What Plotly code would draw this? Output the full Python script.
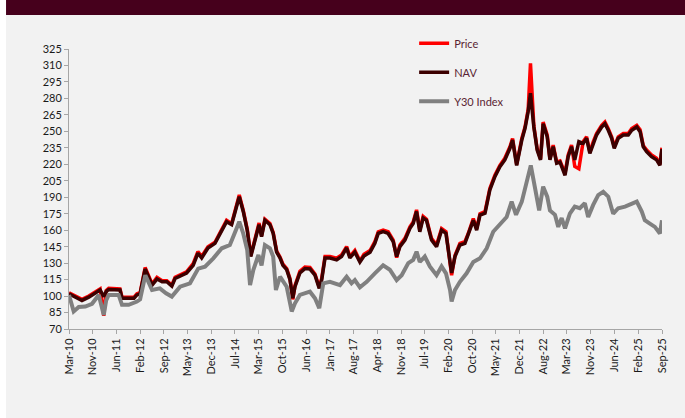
import plotly.graph_objects as go

nav_dates = [
"2010-03-01","2010-04-08","2010-05-16","2010-07-03","2010-09-06","2010-11-06","2010-12-23","2011-01-27","2011-02-19","2011-03-15",
"2011-05-14","2011-07-01","2011-07-20","2011-09-15","2011-11-12","2011-12-10","2012-01-09","2012-02-26","2012-03-24","2012-05-02",
"2012-06-18","2012-08-06","2012-09-20","2012-11-07","2012-12-08","2013-01-25","2013-03-28","2013-05-30","2013-07-14","2013-08-19",
"2013-10-18","2013-12-24","2014-02-27","2014-04-14","2014-06-01","2014-07-02","2014-08-13","2014-09-20","2014-10-28","2014-12-01",
"2015-01-10","2015-02-18","2015-03-14","2015-04-15","2015-06-02","2015-07-03","2015-08-05","2015-09-06","2015-10-04","2015-11-09",
"2015-12-10","2016-01-06","2016-01-27","2016-03-14","2016-05-01","2016-06-18","2016-08-05","2016-09-15","2016-10-08","2016-11-09",
"2016-12-26","2017-02-28","2017-04-16","2017-06-03","2017-07-04","2017-08-21","2017-10-08","2017-11-16","2018-01-13","2018-02-28",
"2018-04-01","2018-05-18","2018-07-05","2018-08-22","2018-09-24","2018-10-25","2018-12-12","2019-01-29","2019-03-01","2019-04-02",
"2019-05-03","2019-06-04","2019-07-06","2019-08-23","2019-10-10","2019-11-27","2020-01-08","2020-02-09","2020-03-02","2020-04-03",
"2020-05-20","2020-07-07","2020-08-08","2020-09-25","2020-10-27","2020-11-28","2021-01-15","2021-03-02","2021-04-19","2021-06-06",
"2021-07-23","2021-09-10","2021-10-05","2021-11-13","2022-01-01","2022-02-01","2022-03-03","2022-03-25","2022-04-26","2022-05-28",
"2022-06-29","2022-07-24","2022-09-01","2022-09-27","2022-10-28","2022-11-30","2023-01-01","2023-02-18","2023-03-20","2023-04-21",
"2023-05-22","2023-06-30","2023-08-10","2023-09-12","2023-10-13","2023-11-14","2023-12-16","2024-02-03","2024-03-05","2024-04-06",
"2024-05-08","2024-06-02","2024-07-10","2024-08-27","2024-10-14","2024-11-16","2025-01-03","2025-02-04","2025-03-06","2025-04-07",
"2025-05-24","2025-07-11","2025-08-12","2025-09-01"]

nav_values = [
102, 100, 98, 96, 99, 103, 105.5, 99.5, 104, 106,
106, 105.5, 98, 98, 98, 101, 102, 124.6, 118, 110,
115.5, 113, 113, 109, 116, 118, 121, 128, 139, 134.7,
143.7, 148, 160, 167.7, 165, 177, 190.5, 177, 160, 136,
151, 165, 154, 169, 165, 157, 140, 134.7, 128, 124,
115, 98, 108.5, 121, 125, 124.6, 119, 107, 114.6, 134.7,
134.7, 133, 136, 143.8, 134.7, 140, 131, 136.5, 140, 148,
157, 158.6, 157, 149.5, 136, 145, 151, 161.7, 166, 177,
158.6, 171, 169, 151, 145, 160, 157, 136, 121, 136,
146.5, 148, 155.6, 169, 160, 173.8, 175.4, 196.6, 208.7, 217.8,
224, 234.6, 242, 219, 242, 252.8, 268, 284.7, 254, 233,
224, 257, 245, 224, 236, 221, 222, 210, 227, 236,
224, 240.6, 239, 243.7, 230, 239, 246.7, 254, 257, 251,
243.7, 234.6, 243.7, 246.7, 246.7, 251, 254, 249.7, 236, 231.5,
227, 224, 219, 234]

price_values = [
103, 101, 99, 97, 100, 104, 106.5, 82, 105, 107,
107, 106.5, 99, 99, 99, 102, 103, 126, 119, 111,
117, 114, 114, 110, 117, 119, 122, 129.5, 140.5, 136,
145, 149, 161.5, 169, 166, 178.5, 192, 178, 161, 137,
152, 166.5, 155, 170, 166, 158, 141, 135.5, 129, 125,
116, 97, 109.5, 122.5, 126.5, 126, 120, 108, 116, 136,
136, 134.5, 137.5, 145, 136, 141.5, 132, 138, 141.5, 149.5,
158.5, 160, 158.5, 151, 135, 146.5, 152.5, 163, 167.5, 178.5,
160, 172.5, 170, 152.5, 146.5, 161.5, 158.5, 137, 119, 137,
148, 149.5, 157, 170.5, 161.5, 175, 177, 198, 210, 219,
225.5, 236, 243.5, 220, 243.5, 254, 270, 312, 255, 234,
225, 258.5, 246.5, 225, 237.5, 222, 223, 212, 228.5, 237.5,
218, 216, 240.5, 245, 231, 240.5, 248, 255.5, 258.5, 252.5,
245, 236, 245, 248, 248, 252.5, 255.5, 251.5, 237, 233,
228.5, 225.5, 220, 235]

y30_dates = [
"2010-03-01","2010-04-15","2010-06-02","2010-08-04","2010-10-07","2010-12-10","2011-01-27","2011-02-19","2011-03-15","2011-06-18",
"2011-07-20","2011-09-22","2011-12-10","2012-01-09","2012-02-28","2012-05-02","2012-07-16","2012-09-13","2012-11-07","2013-01-25",
"2013-04-29","2013-07-17","2013-09-20","2013-12-08","2014-02-27","2014-05-15","2014-06-23","2014-08-13","2014-09-20","2014-10-28",
"2014-11-24","2014-12-25","2015-02-12","2015-03-14","2015-04-15","2015-06-02","2015-07-03","2015-07-29","2015-09-06","2015-11-09",
"2015-12-27","2016-01-27","2016-03-14","2016-06-18","2016-08-05","2016-09-15","2016-10-23","2016-12-26","2017-04-01","2017-06-03",
"2017-07-20","2017-08-21","2017-10-08","2017-12-12","2018-02-28","2018-05-18","2018-07-21","2018-09-24","2018-11-11","2019-01-13",
"2019-03-01","2019-04-02","2019-05-03","2019-06-20","2019-08-07","2019-10-10","2019-11-27","2020-01-08","2020-02-16","2020-03-02",
"2020-04-03","2020-05-20","2020-07-23","2020-09-25","2020-11-28","2021-01-31","2021-04-03","2021-06-06","2021-08-09","2021-09-26",
"2021-11-07","2022-01-01","2022-02-17","2022-03-28","2022-05-05","2022-06-16","2022-07-24","2022-09-01","2022-09-27","2022-11-14",
"2022-12-15","2023-01-17","2023-02-18","2023-04-05","2023-05-22","2023-07-09","2023-08-26","2023-09-27","2023-11-14","2024-01-01",
"2024-02-18","2024-04-06","2024-05-23","2024-07-10","2024-09-13","2024-11-16","2025-01-03","2025-02-20","2025-03-21","2025-05-08",
"2025-06-25","2025-08-12","2025-09-01"]

y30_values = [
101, 86, 90, 90.5, 93, 101, 82.8, 96, 101, 101,
92, 92, 95, 97, 119, 105.5, 107, 102.5, 99.5, 108.5,
111.6, 125, 126.8, 134.4, 143.5, 146.5, 155.6, 167.7, 157, 142,
110, 123.7, 137.4, 128, 146.5, 143.5, 136, 105.5, 117.6, 108.5,
86, 93.4, 101, 104, 98, 89, 111.6, 113, 110, 117.6,
111.6, 114.6, 108, 113, 120.7, 128, 124, 114.6, 119, 130,
133, 140.4, 131, 136, 127, 119, 127, 120.7, 105.5, 95,
105.5, 113, 120.7, 131, 134.4, 143.5, 158.6, 166, 172, 186,
174, 186, 202.7, 219, 199.6, 178, 199.6, 190.5, 178, 174,
163, 171, 161.7, 175, 181.4, 180, 184.5, 172, 183, 192,
195, 190.5, 175, 180, 181.4, 184.5, 186, 177, 169, 166,
163, 157, 169]

tick_dates = ["2010-03-01","2010-10-14","2011-05-27","2012-01-10","2012-08-24","2013-04-07","2013-11-20",
              "2014-07-03","2015-02-16","2015-09-30","2016-05-13","2016-12-26","2017-08-09","2018-03-23",
              "2018-11-06","2019-06-19","2020-02-02","2020-09-15","2021-04-29","2021-12-12","2022-07-25",
              "2023-03-08","2023-10-21","2024-06-04","2025-01-18","2025-09-01"]
tick_labels = ["Mar-10","Nov-10","Jun-11","Feb-12","Sep-12","May-13","Dec-13","Jul-14","Mar-15","Oct-15",
               "Jun-16","Jan-17","Aug-17","Apr-18","Nov-18","Jul-19","Feb-20","Oct-20","May-21","Dec-21",
               "Aug-22","Mar-23","Nov-23","Jun-24","Feb-25","Sep-25"]

FONT = "Lato, 'Liberation Sans', sans-serif"
AXIS_GREY = "#a6a6a6"

fig = go.Figure()
fig.add_trace(go.Scatter(x=nav_dates, y=price_values, name="Price", mode="lines",
                         line=dict(color="#ff0000", width=3.5), legendgroup="a"))
fig.add_trace(go.Scatter(x=nav_dates, y=nav_values, name="NAV", mode="lines",
                         line=dict(color="#3c0000", width=3.5), legendgroup="b"))
fig.add_trace(go.Scatter(x=y30_dates, y=y30_values, name="Y30 Index", mode="lines",
                         line=dict(color="#808080", width=4), legendgroup="c"))

fig.update_layout(
    width=685, height=418,
    margin=dict(l=69, r=23, t=49, b=89),
    paper_bgcolor="#f2f2f2",
    plot_bgcolor="#f2f2f2",
    font=dict(family=FONT, size=11, color="#1a1a1a"),
    showlegend=True,
    legend=dict(x=0.582, y=1.072, xanchor="left", yanchor="top",
                bgcolor="rgba(0,0,0,0)", tracegroupgap=10,
                font=dict(family=FONT, size=11, color="#5a1f33")),
    xaxis=dict(type="date", range=["2010-03-01", "2025-09-01"],
               tickmode="array", tickvals=tick_dates, ticktext=tick_labels,
               tickangle=-90, showgrid=False, zeroline=False,
               showline=True, linecolor=AXIS_GREY, linewidth=1,
               ticks="outside", ticklen=4, tickcolor=AXIS_GREY,
               tickfont=dict(size=11, color="#1a1a1a")),
    yaxis=dict(range=[70, 325], tick0=70, dtick=15, showgrid=False, zeroline=False,
               showline=True, linecolor=AXIS_GREY, linewidth=1,
               ticks="outside", ticklen=4, tickcolor=AXIS_GREY,
               tickfont=dict(size=11, color="#1a1a1a")),
    shapes=[
        dict(type="rect", xref="paper", yref="paper", x0=-0.1062, x1=1.1, y0=1.1214, y1=1.3,
             fillcolor="#46001c", line=dict(width=0), layer="above"),
        dict(type="rect", xref="paper", yref="paper", x0=-0.2, x1=-0.1062, y0=-0.5, y1=1.3,
             fillcolor="#ffffff", line=dict(width=0), layer="above"),
    ],
)

fig.write_html("out.html",
               config={"displayModeBar": False},
               post_script="document.body.style.margin='0';document.body.style.padding='0';")
